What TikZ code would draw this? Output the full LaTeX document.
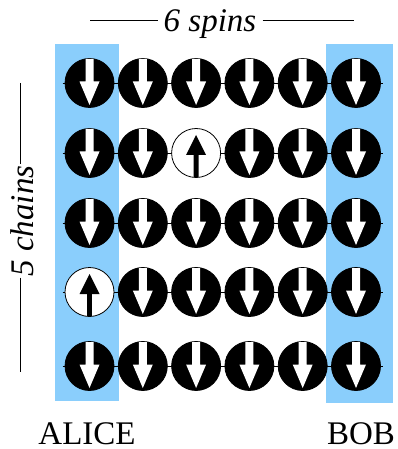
\documentclass[tikz,border=0pt]{standalone}
\usepackage{fontspec}
\setmainfont{Liberation Serif}[ItalicFont={Liberation Serif Italic}]
\usepackage{tikz}
\usetikzlibrary{backgrounds}
\definecolor{partyblue}{RGB}{138,206,252}

\begin{document}
\begin{tikzpicture}[x=1pt,y=-1pt,
    spin/.style={circle,draw=black,line width=0.8pt,minimum size=49pt,inner sep=0pt},
    spindn/.style={spin,fill=black},
    spinup/.style={spin,fill=white},
    lbl/.style={font=\fontsize{33}{40}\selectfont,inner sep=1pt},
    arrdn/.pic={\fill [white] (-4,-24) -- (4,-24) -- (4,-1.5) -- (10,-1.5) -- (0,22) -- (-10,-1.5) -- (-4,-1.5) -- cycle;},
    arrup/.pic={\fill [black] (-2.4,24) -- (2.4,24) -- (2.4,2) -- (10,2) -- (0,-18) -- (-10,2) -- (-2.4,2) -- cycle;}]
    \useasboundingbox (0,0) rectangle (397,449);
    % the chains
    \foreach \y [count=\r] in {83,153,223,292,366} {
        \foreach \x [count=\c] in {89.5,142.8,196.1,249.4,302.7,356} {
            \def\kind{dn}
            \ifnum\r\c=23 \def\kind{up}\fi
            \ifnum\r\c=41 \def\kind{up}\fi
            \node [spin\kind] (s-\r-\c) at (\x,\y) {};
            \pic at (s-\r-\c.center) {arr\kind};
        }
    }
    \begin{scope}[on background layer]
        \fill [partyblue] (55,44) rectangle (119,401);
        \fill [partyblue] (326,44) rectangle (393,403);
        \foreach \r in {1,...,5}
            \draw [line width=0.8pt] ([xshift=-2pt]s-\r-1.west) -- ([xshift=2pt]s-\r-6.east);
    \end{scope}
    % labels
    \node [lbl,anchor=base,inner xsep=6pt] (spins) at (210,32) {\itshape 6 spins};
    \coordinate (spinsl) at (90,20);
    \coordinate (spinsr) at (354,20);
    \draw [line width=0.8pt] (spinsl) -- (spinsl -| spins.west);
    \draw [line width=0.8pt] (spins.east |- spinsr) -- (spinsr);
    \node [lbl,anchor=base,rotate=90] (chains) at (33,221) {\itshape 5 chains};
    \coordinate (chainst) at (20,83);
    \coordinate (chainsb) at (20,372);
    \draw [line width=0.8pt] (chainst) -- (chainst |- chains.east);
    \draw [line width=0.8pt] (chainsb |- chains.west) -- (chainsb);
    \node [lbl,anchor=base] (alice) at (87,444) {ALICE};
    \node [lbl,anchor=base] (bob) at (361,444) {BOB};
\end{tikzpicture}
\end{document}
